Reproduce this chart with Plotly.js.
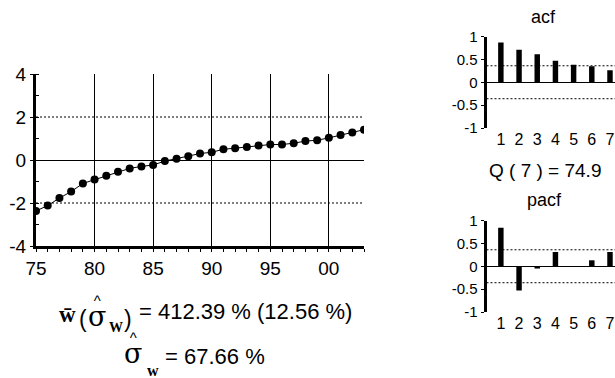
<!DOCTYPE html>
<html><head><meta charset="utf-8">
<script src="https://cdn.plot.ly/plotly-3.0.1.min.js"></script>
<style>html,body{margin:0;padding:0;overflow:hidden;background:#fff;width:615px;height:378px}#c{width:660px;height:378px}</style>
</head><body><div id="c"></div>
<script>
// ---- data ----
const years = [1975,1976,1977,1978,1979,1980,1981,1982,1983,1984,1985,1986,1987,1988,1989,1990,1991,1992,1993,1994,1995,1996,1997,1998,1999,2000,2001,2002,2003];
const values = [-2.37,-2.12,-1.77,-1.47,-1.09,-0.91,-0.73,-0.55,-0.39,-0.30,-0.23,-0.05,0.06,0.17,0.30,0.36,0.50,0.55,0.61,0.67,0.72,0.72,0.78,0.88,0.92,1.03,1.16,1.28,1.41];
const yearTickVals = [1975,1980,1985,1990,1995,2000];
const yearTickText = ['75','80','85','90','95','00'];
const lags = [1,2,3,4,5,6,7];
const acf = [0.87,0.71,0.61,0.47,0.38,0.35,0.26];
const pacf = [0.84,-0.53,-0.05,0.31,0.0,0.13,0.31];
const acfBand = 0.36;
const qStat = 'Q ( 7 ) = 74.9';
const meanText = '= 412.39 % (12.56 %)';
const sigmaText = '= 67.66 %';

// ---- layout helpers ----
const W = 660, H = 378;
const px = x => x / W, py = y => 1 - y / H;
const sans = 'Liberation Sans, Arial, sans-serif';
const serif = 'Liberation Serif, Times New Roman, serif';
const sigmaHat = '^<br><span style="font-family:DejaVu Serif;font-size:27px">\u03C3</span>';

const dash = {color: '#000', width: 1, dash: '2px,2px'};
const traces = [
  {x: years, y: values, type: 'scatter', mode: 'lines+markers', xaxis: 'x', yaxis: 'y',
   line: {color: '#000', width: 1}, marker: {color: '#000', size: 8}},
  {x: lags, y: acf, type: 'bar', xaxis: 'x2', yaxis: 'y2', width: 0.3,
   marker: {color: '#000', line: {width: 0}}},
  {x: lags, y: pacf, type: 'bar', xaxis: 'x3', yaxis: 'y3', width: 0.3,
   marker: {color: '#000', line: {width: 0}}},
  {x: [0.21, 9.2], y: [acfBand, acfBand], type: 'scatter', mode: 'lines', xaxis: 'x2', yaxis: 'y2', line: dash},
  {x: [0.21, 9.2], y: [-acfBand, -acfBand], type: 'scatter', mode: 'lines', xaxis: 'x2', yaxis: 'y2', line: dash},
  {x: [0.21, 9.2], y: [acfBand, acfBand], type: 'scatter', mode: 'lines', xaxis: 'x3', yaxis: 'y3', line: dash},
  {x: [0.21, 9.2], y: [-acfBand, -acfBand], type: 'scatter', mode: 'lines', xaxis: 'x3', yaxis: 'y3', line: dash},
  {x: [1975, 2003], y: [2, 2], type: 'scatter', mode: 'lines', xaxis: 'x', yaxis: 'y', line: dash},
  {x: [1975, 2003], y: [-2, -2], type: 'scatter', mode: 'lines', xaxis: 'x', yaxis: 'y', line: dash}
];

const smallAxisY = (dom, anchor) => ({domain: dom, range: [-1, 1], anchor: anchor,
  tickvals: [-1, -0.5, 0, 0.5, 1], ticktext: ['-1','-0.5','0','0.5','1'],
  showline: true, linecolor: '#000', linewidth: 3, ticks: 'outside', ticklen: 3, tickcolor: '#000',
  showgrid: false, zeroline: true, zerolinecolor: '#000', zerolinewidth: 1,
  tickfont: {family: sans, size: 15, color: '#000'}});
const smallAxisX = (anchor) => ({domain: [px(486.5), px(650)], range: [0.21, 9.2], anchor: anchor,
  tickvals: lags, showline: false, ticks: '', showgrid: false, zeroline: false,
  tickfont: {family: sans, size: 16, color: '#000'}});

const ann = (x, y, text, size, fam, xa, ya) => ({xref: 'paper', yref: 'paper', x: px(x), y: py(y),
  xanchor: xa || 'center', yanchor: ya || 'middle', text: text, showarrow: false,
  font: {family: fam || sans, size: size, color: '#000'}});

const layout = {
  width: W, height: H, margin: {l: 0, r: 0, t: 0, b: 0},
  paper_bgcolor: '#fff', plot_bgcolor: 'rgba(0,0,0,0)', showlegend: false,
  xaxis: {domain: [px(36), px(364)], range: [1975, 2003], anchor: 'y',
    tickvals: yearTickVals, ticktext: yearTickText,
    showline: true, linecolor: '#000', linewidth: 3, ticks: 'outside', ticklen: 3, tickcolor: '#000',
    minor: {dtick: 1, tick0: 1975, ticks: 'outside', ticklen: 3, tickcolor: '#000', showgrid: false},
    showgrid: true, gridcolor: '#000', gridwidth: 1, zeroline: false,
    tickfont: {family: sans, size: 19, color: '#000'}},
  yaxis: {domain: [py(246), py(74)], range: [-4, 4], anchor: 'x',
    tickvals: [-4, -2, 0, 2, 4], ticktext: ['-4','-2','0','2','4'],
    showline: true, linecolor: '#000', linewidth: 3, ticks: 'outside', ticklen: 3, tickcolor: '#000',
    minor: {dtick: 1, tick0: 0, ticks: 'inside', ticklen: 3, tickcolor: '#000', showgrid: false},
    showgrid: false, zeroline: true, zerolinecolor: '#000', zerolinewidth: 1,
    tickfont: {family: sans, size: 19, color: '#000'}},
  xaxis2: smallAxisX('y2'),
  yaxis2: smallAxisY([py(128), py(36.5)], 'x2'),
  xaxis3: smallAxisX('y3'),
  yaxis3: smallAxisY([py(312), py(220.5)], 'x3'),
  annotations: [
    ann(543, 17, 'acf', 18),
    ann(545, 171, qStat, 19),
    ann(544, 200, 'pacf', 18),
    // line 1: w-bar ( sigma-hat _W ) = ...
    ann(57, 314, '<b>w\u0304</b>', 23, serif, 'left'),
    ann(77, 319, '(', 23, sans, 'left'),
    ann(86, 334, sigmaHat, 15, sans, 'left', 'bottom'),
    ann(107, 327, '<b>W</b>', 14, serif, 'left'),
    ann(122, 319, ')', 23, sans, 'left'),
    ann(137, 311, meanText, 22, sans, 'left'),
    // line 2: sigma-hat _w = ...
    ann(122, 371, sigmaHat, 15, sans, 'left', 'bottom'),
    ann(145, 370, '<b>w</b>', 16, serif, 'left'),
    ann(163, 356, sigmaText, 22, sans, 'left')
  ]
};
Plotly.newPlot('c', traces, layout, {displayModeBar: false, staticPlot: true});
</script></body></html>
